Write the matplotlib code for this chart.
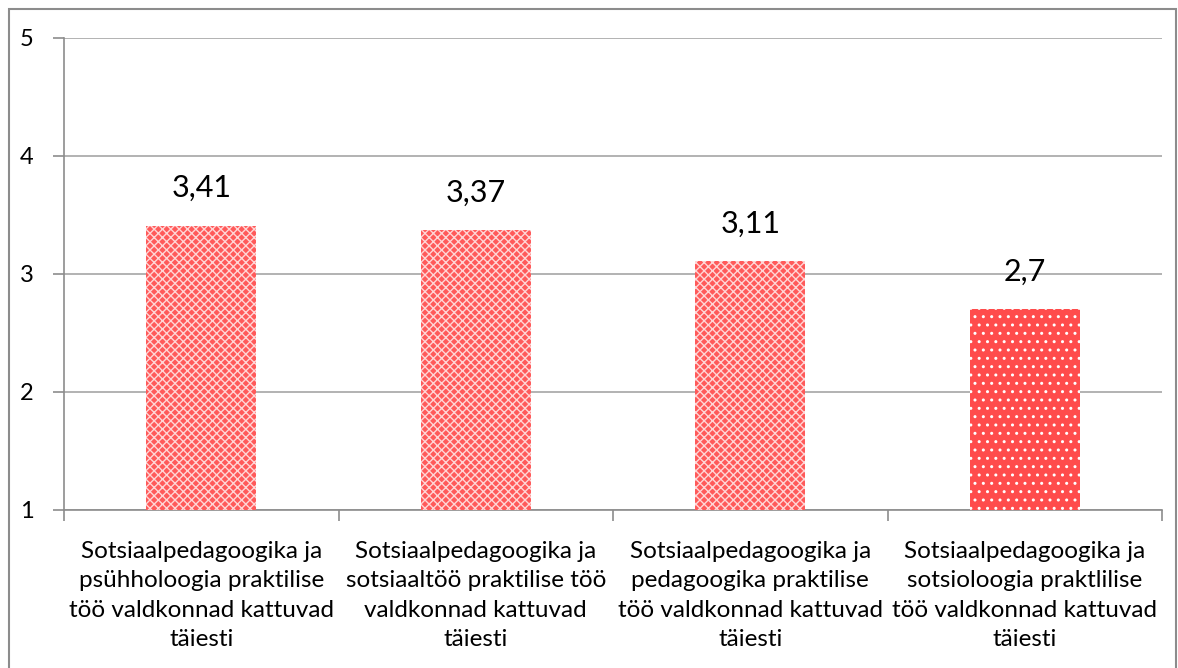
import matplotlib
matplotlib.use("Agg")
import matplotlib.pyplot as plt
import numpy as np

categories = [
    "Sotsiaalpedagoogika ja\npsühholoogia praktilise\ntöö valdkonnad kattuvad\ntäiesti",
    "Sotsiaalpedagoogika ja\nsotsiaaltöö praktilise töö\nvaldkonnad kattuvad\ntäiesti",
    "Sotsiaalpedagoogika ja\npedagoogika praktilise\ntöö valdkonnad kattuvad\ntäiesti",
    "Sotsiaalpedagoogika ja\nsotsioloogia praktlilise\ntöö valdkonnad kattuvad\ntäiesti",
]
values = [3.41, 3.37, 3.11, 2.7]
value_labels = ["3,41", "3,37", "3,11", "2,7"]
yticks = [1, 2, 3, 4, 5]

plt.rcParams['font.family'] = ['Lato', 'DejaVu Sans']
plt.rcParams['hatch.linewidth'] = 1.0

fig = plt.figure(figsize=(11.78, 6.68), dpi=100)
ax = fig.add_axes([64/1178, 1-510/668, (1162-64)/1178, (510-38)/668])

x = np.arange(len(values))
base = 1
for i, v in enumerate(values):
    if i < 3:
        fc, hatch, ec = '#ff5a5a', 'xxxx', '#ffd6d6'
    else:
        fc, hatch, ec = '#ff4c4c', '..', '#ffffff'
    ax.bar(x[i], v - base, bottom=base, width=0.4, color=fc,
           edgecolor=ec, hatch=hatch, linewidth=0, zorder=3)
    ax.text(x[i], v + 0.2, value_labels[i], ha='center', va='bottom', fontsize=22, color='black')

ax.set_xlim(-0.5, len(values) - 0.5)
ax.set_ylim(1, 5)
ax.set_yticks(yticks)
ax.set_yticklabels([str(t) for t in yticks], fontsize=17)
ax.yaxis.grid(True, color='#a6a6a6', linewidth=1.2, zorder=0)
ax.set_axisbelow(True)

ax.set_xticks(x)
ax.set_xticklabels(categories, fontsize=17.5, linespacing=1.5)
ax.tick_params(axis='x', length=0, pad=22)
ax.set_xticks(np.arange(-0.5, len(values), 1), minor=True)
ax.tick_params(axis='x', which='minor', length=8, color='#8c8c8c', width=1.2)
ax.tick_params(axis='y', length=8, color='#8c8c8c', width=1.2, pad=14)

for s in ['top', 'right']:
    ax.spines[s].set_visible(False)
for s in ['left', 'bottom']:
    ax.spines[s].set_color('#8c8c8c')
    ax.spines[s].set_linewidth(1.2)

# outer frame
fig.patches.append(plt.Rectangle((9/1178, -0.01), (1176-9)/1178, 1 - 9/668 + 0.01,
                                 transform=fig.transFigure, fill=False,
                                 edgecolor='#8c8c8c', linewidth=1.5))

fig.savefig("out.png", dpi=100)
